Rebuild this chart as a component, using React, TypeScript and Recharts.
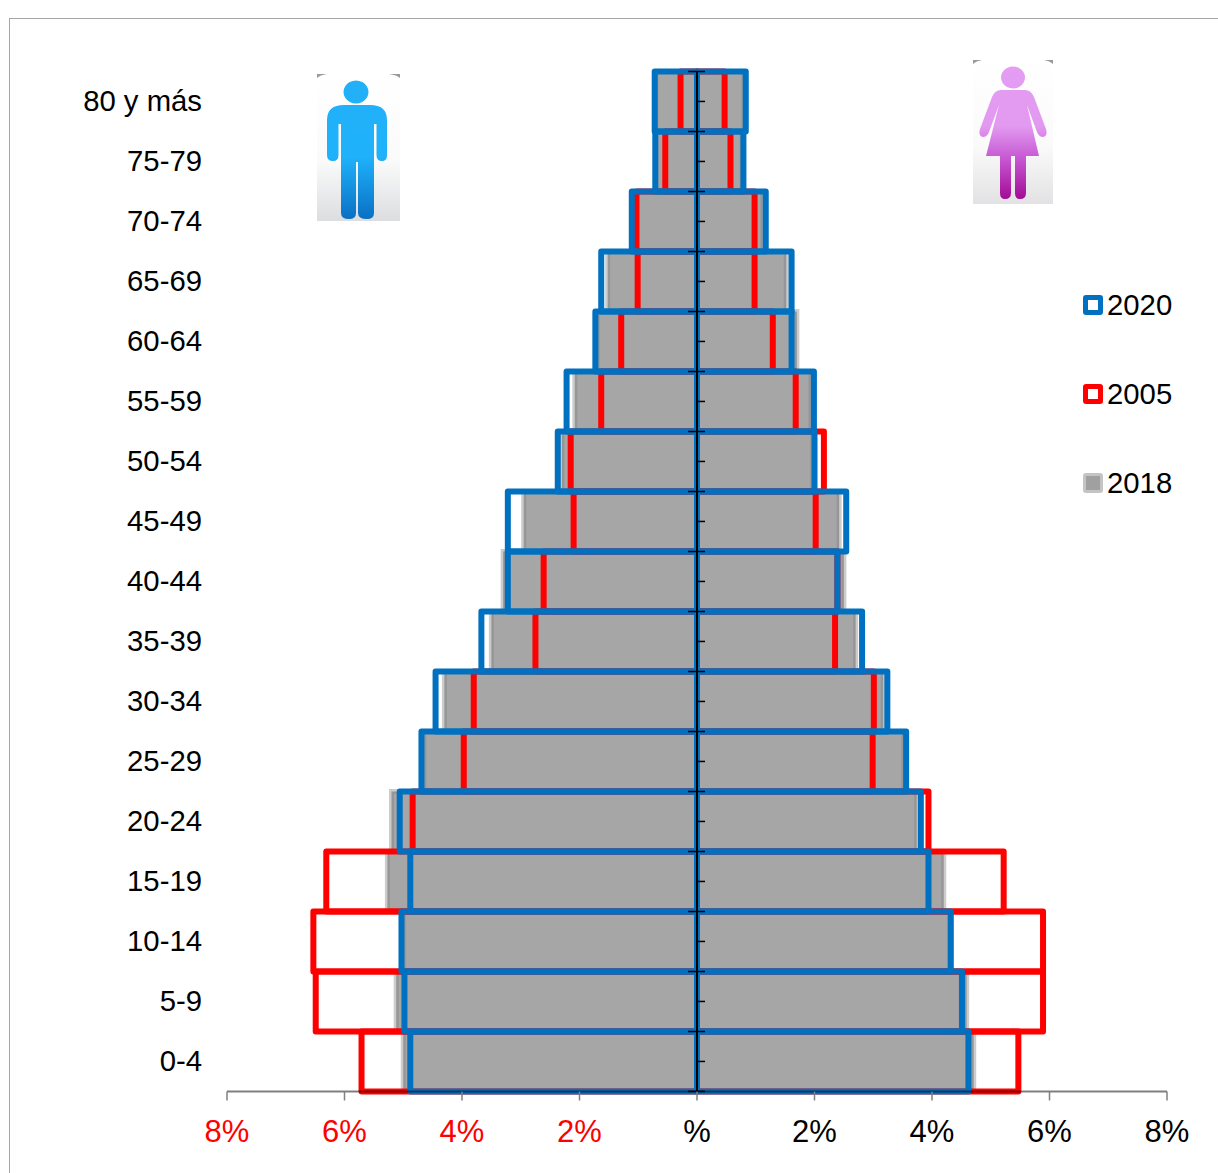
import { BarChart, Bar, XAxis, YAxis, ReferenceLine } from 'recharts'

const FONT = '"Liberation Sans", Arial, sans-serif'

// de arriba (80 y mas) hacia abajo (0-4)
const ages = ['80 y más', '75-79', '70-74', '65-69', '60-64', '55-59', '50-54', '45-49', '40-44', '35-39', '30-34', '25-29', '20-24', '15-19', '10-14', '5-9', '0-4']

const male2018 = [0.7, 0.7, 1.1, 1.52, 1.7, 2.08, 2.3, 2.95, 3.3, 3.5, 4.3, 4.65, 5.2, 5.27, 5.0, 5.12, 5.0]
const female2018 = [0.8, 0.77, 1.12, 1.52, 1.7, 1.94, 1.97, 2.42, 2.5, 2.7, 3.17, 3.52, 3.74, 4.2, 4.3, 4.59, 4.71]
const male2005 = [0.28, 0.54, 1.03, 1.01, 1.29, 1.63, 2.15, 2.1, 2.61, 2.75, 3.8, 3.97, 4.84, 6.31, 6.53, 6.49, 5.71]
const female2005 = [0.47, 0.57, 0.98, 0.98, 1.29, 1.68, 2.16, 2.02, 2.39, 2.35, 3.01, 2.99, 3.94, 5.22, 5.89, 5.89, 5.47]
const male2020 = [0.72, 0.71, 1.11, 1.63, 1.73, 2.22, 2.37, 3.22, 3.22, 3.67, 4.45, 4.69, 5.06, 4.88, 5.03, 4.98, 4.88]
const female2020 = [0.83, 0.79, 1.17, 1.61, 1.61, 1.99, 2.0, 2.54, 2.39, 2.81, 3.24, 3.56, 3.81, 3.94, 4.32, 4.51, 4.62]

const xTicks = [-8, -6, -4, -2, 0, 2, 4, 6, 8]

const legendItems = [
  { label: '2020', color: '#0070c0' },
  { label: '2005', color: '#ff0000' },
  { label: '2018', color: '#c4c4c4' },
]

const data = ages.map((age, i) => ({
  age,
  m2018: -male2018[i],
  f2018: female2018[i],
  m2005: -male2005[i],
  f2005: female2005[i],
  m2020: -male2020[i],
  f2020: female2020[i],
  axisTick: 0,
}))

// 60px por fila: las barras se superponen en la misma banda
const BAR = 59.9

function XTick({ x, y, payload }: any) {
  const v = payload.value
  return (
    <text x={x} y={y + 39} textAnchor="middle" fontFamily={FONT} fontSize={31} fill={v < 0 ? '#ff0000' : '#000'}>
      {v === 0 ? '%' : Math.abs(v) + '%'}
    </text>
  )
}

function AgeTick({ x, y, payload }: any) {
  return (
    <text x={x} y={y + 9.5} textAnchor="end" fontFamily={FONT} fontSize={29.3} fill="#000">
      {payload.value}
    </text>
  )
}

// marcas del eje central: cruzan en los limites de fila, a la derecha en el centro
function CenterTicks({ x, y, height, index }: any) {
  const mid = y + height / 2
  return (
    <g stroke="#000" strokeWidth={1.5}>
      <line x1={x - 9} x2={x + 8} y1={y} y2={y} />
      <line x1={x} x2={x + 8} y1={mid} y2={mid} />
      {index === ages.length - 1 && <line x1={x - 9} x2={x + 8} y1={y + height} y2={y + height} />}
    </g>
  )
}

function ManIcon() {
  return (
    <svg width={83} height={147} style={{ position: 'absolute', left: 317, top: 74 }}>
      <defs>
        <linearGradient id="manBg" x1="0" y1="0" x2="0" y2="1">
          <stop offset="0%" stopColor="#ffffff" />
          <stop offset="60%" stopColor="#fafafa" />
          <stop offset="100%" stopColor="#dcdde0" />
        </linearGradient>
        <linearGradient id="manFill" x1="0" y1="0" x2="0" y2="1">
          <stop offset="0%" stopColor="#22b0f8" />
          <stop offset="55%" stopColor="#1fb2fb" />
          <stop offset="100%" stopColor="#0a70c4" />
        </linearGradient>
      </defs>
      <rect width={83} height={147} fill="url(#manBg)" />
      <path d="M0 0 H10 Q3 1 0 4 Z M83 0 H72 Q80 1 83 4 Z" fill="#9a9a9a" />
      <path
        fill="url(#manFill)"
        d="M39 6.5 a12.5 11.5 0 1 0 0.01 0 Z M10 46 Q10 31 27 31 H53 Q70 31 70 46 V81 Q70 87 65 87 Q59.5 87 59.5 81 V50 H57 V139 Q57 145 50 145 Q41 145 41 139 V88 H39 V139 Q39 145 32 145 Q24 145 24 139 V50 H21.5 V81 Q21.5 87 16 87 Q10 87 10 81 Z"
      />
    </svg>
  )
}

function WomanIcon() {
  return (
    <svg width={80} height={144} style={{ position: 'absolute', left: 973, top: 60 }}>
      <defs>
        <linearGradient id="womanBg" x1="0" y1="0" x2="0" y2="1">
          <stop offset="0%" stopColor="#ffffff" />
          <stop offset="60%" stopColor="#fafafa" />
          <stop offset="100%" stopColor="#e2e2e4" />
        </linearGradient>
        <linearGradient id="womanFill" x1="0" y1="0" x2="0" y2="1">
          <stop offset="0%" stopColor="#e39df2" />
          <stop offset="45%" stopColor="#e29af0" />
          <stop offset="70%" stopColor="#c656d2" />
          <stop offset="100%" stopColor="#a30c96" />
        </linearGradient>
      </defs>
      <rect width={80} height={144} fill="url(#womanBg)" />
      <path d="M0 0 H9 Q3 1 0 4 Z M80 0 H71 Q77 1 80 4 Z" fill="#9a9a9a" />
      <path
        fill="url(#womanFill)"
        d="M40 6.5 a12 11 0 1 0 0.01 0 Z M28 30 H52 Q58 30 61 37 L73 69 Q75 76 70 77 Q66 77 64 72 L54 45 L66 96 H53 V133 Q53 139 47 139 Q42 139 42 133 V96 H38 V133 Q38 139 32 139 Q27 139 27 133 V96 H13 L26 45 L16 72 Q14 77 10 77 Q5 76 7 69 L19 37 Q22 30 28 30 Z"
      />
    </svg>
  )
}

export default function App() {
  return (
    <div style={{ position: 'absolute', left: 0, top: 0, width: 1218, height: 1173, overflow: 'hidden', background: '#fff' }}>
      <div style={{ position: 'absolute', left: 9, top: 18, width: 1400, height: 1400, border: '1px solid #a6a6a6' }} />
      <div style={{ position: 'absolute', left: 0, top: 0 }}>
        <BarChart
          width={1218}
          height={1173}
          data={data}
          layout="vertical"
          stackOffset="sign"
          barSize={BAR}
          barGap={-BAR}
          barCategoryGap={0}
          margin={{ top: 71.5, right: 51, bottom: 0, left: 0 }}
        >
          <YAxis
            type="category"
            dataKey="age"
            width={227}
            interval={0}
            axisLine={false}
            tickLine={false}
            tickSize={0}
            tickMargin={25}
            tick={<AgeTick />}
          />
          <Bar dataKey="m2018" stackId="y2018" fill="#a6a6a6" stroke="#808080" strokeOpacity={0.4} strokeWidth={5} isAnimationActive={false} />
          <Bar dataKey="f2018" stackId="y2018" fill="#a6a6a6" stroke="#808080" strokeOpacity={0.4} strokeWidth={5} isAnimationActive={false} />
          <Bar dataKey="m2005" stackId="y2005" fill="none" stroke="#ff0000" strokeWidth={6} strokeLinejoin="round" isAnimationActive={false} />
          <Bar dataKey="f2005" stackId="y2005" fill="none" stroke="#ff0000" strokeWidth={6} strokeLinejoin="round" isAnimationActive={false} />
          <Bar dataKey="m2020" stackId="y2020" fill="none" stroke="#0070c0" strokeWidth={6} strokeLinejoin="round" isAnimationActive={false} />
          <Bar dataKey="f2020" stackId="y2020" fill="none" stroke="#0070c0" strokeWidth={6} strokeLinejoin="round" isAnimationActive={false} />
          <ReferenceLine x={0} stroke="#000" strokeWidth={2} />
          <Bar dataKey="axisTick" stackId="ticks" shape={<CenterTicks />} isAnimationActive={false} />
          <XAxis
            type="number"
            domain={[-8, 8]}
            ticks={xTicks}
            interval={0}
            height={81.5}
            axisLine={{ stroke: '#000', strokeOpacity: 0.5, strokeWidth: 2 }}
            tickLine={{ stroke: '#808080', strokeWidth: 1.5 }}
            tickSize={9}
            tick={<XTick />}
          />
        </BarChart>
      </div>
      <ManIcon />
      <WomanIcon />
      {legendItems.map((item) => (
        <div key={item.label} style={{ position: 'absolute', left: 1083, top: 287 + legendItems.indexOf(item) * 89, height: 36, display: 'flex', alignItems: 'center', fontFamily: FONT, fontSize: 29.3, color: '#000' }}>
          <span
            style={{
              boxSizing: 'border-box',
              width: 20,
              height: 20,
              borderRadius: 3,
              border: (item.label === '2018' ? 3 : 5.5) + 'px solid ' + item.color,
              background: item.label === '2018' ? '#a0a0a0' : '#fff',
              marginRight: 4,
            }}
          />
          {item.label}
        </div>
      ))}
    </div>
  )
}
